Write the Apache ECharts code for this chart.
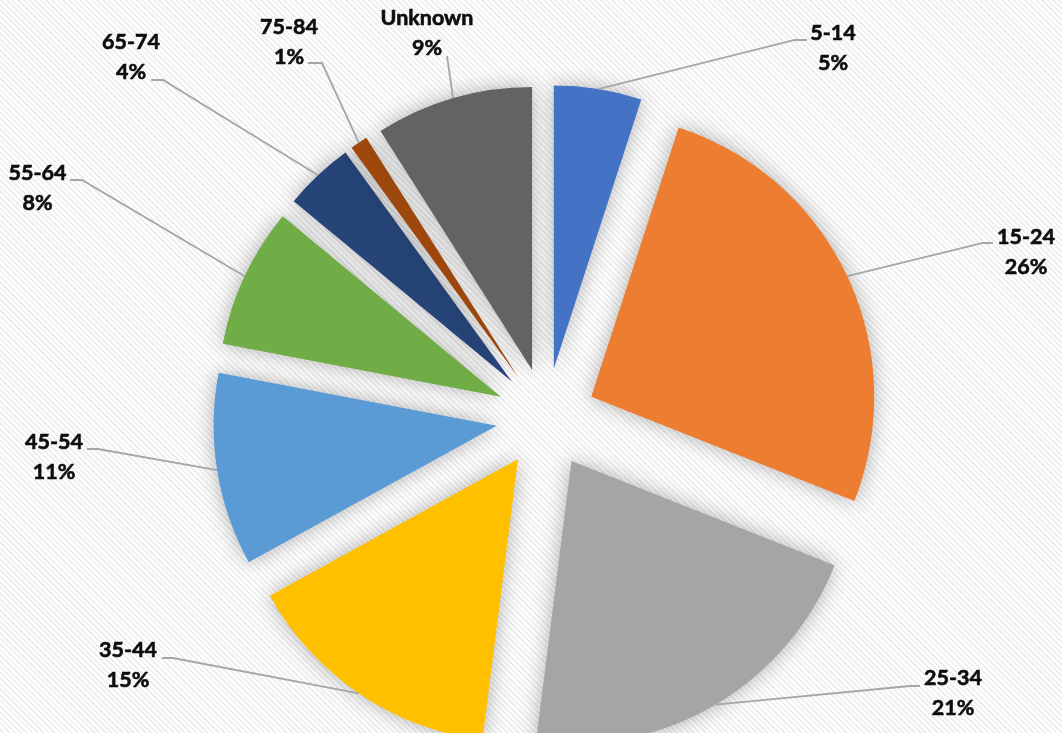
<!DOCTYPE html>
<html>
<head>
<meta charset="utf-8">
<script src="https://cdn.jsdelivr.net/npm/echarts@6/dist/echarts.min.js"></script>
<style>
  html, body { margin: 0; padding: 0; }
  #chart {
    width: 1062px;
    height: 733px;
    background: repeating-linear-gradient(45deg, #ffffff 0px, #ffffff 2px, #efefef 2px, #efefef 4px);
  }
</style>
</head>
<body>
<div id="chart"></div>
<script>
// Age groups and their share of cases (percent)
const ageGroups = ['5-14', '15-24', '25-34', '35-44', '45-54', '55-64', '65-74', '75-84', 'Unknown'];
const shares = [5, 26, 21, 15, 11, 8, 4, 1, 9];
const sliceColors = ['#4472C4', '#ED7D31', '#A5A5A5', '#FFC000', '#5B9BD5', '#70AD47', '#264478', '#9E480E', '#636363'];

// Pie geometry: slice radius and how far every slice is pulled out
const PIE_CENTER = [546, 418];
const PIE_RADIUS = 283;
const EXPLODE = 50;

// Where each callout sits: text block centre, then the leader's end and elbow points
const calloutLayout = [
  { cx: 833,  cy: 48,    end: [807, 40],  elbow: [795, 40] },
  { cx: 1026, cy: 252,   end: [993, 243], elbow: [983, 243] },
  { cx: 953,  cy: 693,   end: [920, 686], elbow: [910, 686] },
  { cx: 128,  cy: 665.5, end: [162, 658], elbow: [173, 658] },
  { cx: 54,   cy: 457,   end: [87, 449],  elbow: [98, 449] },
  { cx: 37.5, cy: 188.5, end: [70, 180],  elbow: [82, 180] },
  { cx: 131,  cy: 57.5,  end: [151, 80],  elbow: [163, 80] },
  { cx: 289,  cy: 42.5,  end: [308, 63],  elbow: [322, 63] },
  { cx: 427,  cy: 33.5,  end: [447, 56],  elbow: [447, 56] }
];

const chart = echarts.init(document.getElementById('chart'), null, { renderer: 'canvas' });

// Exploded slices
const sliceData = ageGroups.map((name, i) => ({
  name: name,
  value: shares[i],
  selected: true,
  itemStyle: { color: sliceColors[i] }
}));

// Invisible twin whose outer rim runs along the exploded slices' arcs;
// it carries the data labels and their leader lines.
const labelData = ageGroups.map((name, i) => ({ name: name, value: shares[i] }));

chart.setOption({
  backgroundColor: 'transparent',
  animation: false,
  series: [
    {
      type: 'pie',
      name: 'slices',
      center: PIE_CENTER,
      radius: PIE_RADIUS,
      startAngle: 90,
      clockwise: true,
      selectedMode: 'multiple',
      selectedOffset: EXPLODE,
      silent: true,
      emphasis: { disabled: true },
      itemStyle: {
        borderWidth: 0,
        shadowBlur: 20,
        shadowColor: 'rgba(0,0,0,0.3)'
      },
      select: { itemStyle: { borderWidth: 0 } },
      label: { show: false },
      labelLine: { show: false },
      data: sliceData
    },
    {
      type: 'pie',
      name: 'callouts',
      center: PIE_CENTER,
      radius: PIE_RADIUS + EXPLODE,
      startAngle: 90,
      clockwise: true,
      silent: true,
      z: 3,
      avoidLabelOverlap: false,
      emphasis: { disabled: true },
      itemStyle: { color: 'rgba(0,0,0,0)', borderWidth: 0 },
      label: {
        show: true,
        position: 'outside',
        formatter: '{b}\n{c}%',
        fontFamily: 'Lato',
        fontWeight: 'bold',
        fontSize: 21.5,
        lineHeight: 30,
        color: '#0d0d0d',
        textBorderColor: '#0d0d0d',
        textBorderWidth: 0.6
      },
      labelLine: {
        show: true,
        length: 20,
        length2: 10,
        lineStyle: { color: '#A6A6A6', width: 1.8 }
      },
      labelLayout: function (params) {
        const c = calloutLayout[params.dataIndex];
        const pts = params.labelLinePoints;
        return {
          x: c.cx,
          y: c.cy,
          align: 'center',
          verticalAlign: 'middle',
          labelLinePoints: [pts[0], c.elbow, c.end]
        };
      },
      data: labelData
    }
  ]
});
</script>
</body>
</html>
